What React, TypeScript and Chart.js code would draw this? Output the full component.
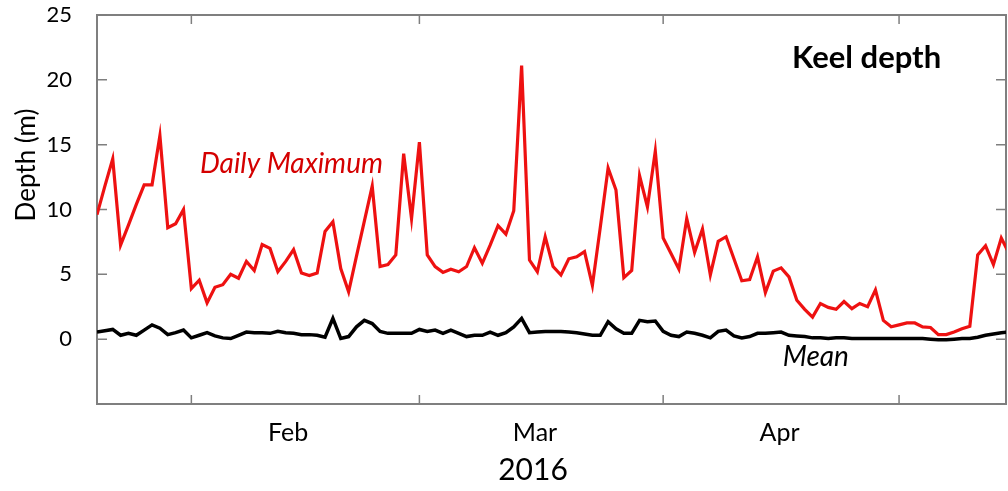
import React, { useEffect, useRef } from 'react';
import { Chart, registerables } from 'chart.js';

Chart.register(...registerables);

// Day index: 0 = 1 Jan 2016. Series start on 20 Jan (index 19), one value per day.
const startDay = 19;
const xMin = 19;
const xMax = 134.6;

const dailyMax = [
  9.6, 11.8, 13.9, 7.25, 8.8, 10.4, 11.9, 11.9, 15.7, 8.6, 8.9, 10.0,
  3.9, 4.55, 2.8, 4.0, 4.2, 5.0, 4.7, 6.0, 5.3, 7.3, 7.0, 5.2, 6.0, 6.9,
  5.1, 4.9, 5.1, 8.3, 9.05, 5.45, 3.65, 6.4, 9.1, 11.8, 5.6, 5.75, 6.5,
  14.3, 9.3, 15.2,
  6.5, 5.6, 5.15, 5.4, 5.2, 5.6, 7.05, 5.85, 7.25, 8.75, 8.1, 9.9, 21.1,
  6.1, 5.2, 7.9, 5.6, 4.95, 6.2, 6.35, 6.75, 4.15, 8.6, 13.2, 11.5, 4.75,
  5.3, 12.6, 10.2, 14.5,
  7.8, 6.6, 5.4, 9.3, 6.7, 8.5, 4.95, 7.55, 7.9, 6.2, 4.5, 4.6, 6.35, 3.6,
  5.25, 5.5, 4.8, 3.0, 2.3, 1.7, 2.75, 2.45, 2.3, 2.9, 2.35, 2.75, 2.5,
  3.8, 1.45, 0.95,
  1.1, 1.25, 1.25, 0.95, 0.9, 0.35, 0.35, 0.55, 0.8, 1.0, 6.5, 7.2, 5.75,
  7.8, 6.6,
];

const dailyMean = [
  0.55, 0.65, 0.75, 0.3, 0.45, 0.3, 0.7, 1.1, 0.85, 0.35, 0.5, 0.7,
  0.1, 0.3, 0.5, 0.25, 0.1, 0.05, 0.3, 0.55, 0.5, 0.5, 0.45, 0.6, 0.5, 0.45,
  0.35, 0.35, 0.3, 0.15, 1.6, 0.05, 0.2, 0.95, 1.45, 1.2, 0.6, 0.45, 0.45,
  0.45, 0.45, 0.75,
  0.6, 0.7, 0.45, 0.7, 0.45, 0.2, 0.3, 0.3, 0.55, 0.3, 0.5, 0.95, 1.6,
  0.5, 0.55, 0.6, 0.6, 0.6, 0.55, 0.5, 0.4, 0.3, 0.3, 1.35, 0.8, 0.45,
  0.45, 1.45, 1.35, 1.4,
  0.6, 0.3, 0.2, 0.55, 0.45, 0.3, 0.1, 0.6, 0.7, 0.25, 0.1, 0.2, 0.45, 0.45,
  0.5, 0.55, 0.3, 0.25, 0.2, 0.1, 0.1, 0.05, 0.1, 0.1, 0.05, 0.05, 0.05,
  0.05, 0.05, 0.05,
  0.05, 0.05, 0.05, 0.05, 0.0, -0.05, -0.05, 0.0, 0.05, 0.05, 0.15, 0.3, 0.4,
  0.5, 0.55,
];

const monthStartDays = [31, 60, 91, 121];
const monthLabelDays = [43.3, 74.7, 105.8];
const monthLabels = ['Feb', 'Mar', 'Apr'];
const yTickValues = [-5, 0, 5, 10, 15, 20, 25];
const yLabelled = [0, 5, 10, 15, 20, 25];

const FONT = 'Lato, "Open Sans", sans-serif';

const overlayPlugin = {
  id: 'overlay',
  beforeDatasetsDraw(chart: any) {
    const { ctx, chartArea: a, scales } = chart;
    const xs = scales.x;
    const ys = scales.y;
    ctx.save();
    ctx.strokeStyle = '#7f7f7f';
    ctx.lineWidth = 2;
    ctx.strokeRect(a.left, a.top, a.right - a.left, a.bottom - a.top);
    ctx.lineWidth = 1.5;
    ctx.beginPath();
    yTickValues.forEach((v) => {
      const py = ys.getPixelForValue(v);
      ctx.moveTo(a.left, py);
      ctx.lineTo(a.left + 10, py);
      ctx.moveTo(a.right, py);
      ctx.lineTo(a.right - 10, py);
    });
    monthStartDays.forEach((d) => {
      const px = xs.getPixelForValue(d);
      ctx.moveTo(px, a.bottom);
      ctx.lineTo(px, a.bottom - 9);
      ctx.moveTo(px, a.top);
      ctx.lineTo(px, a.top + 9);
    });
    ctx.stroke();
    ctx.restore();
  },
  afterDraw(chart: any) {
    const { ctx, scales } = chart;
    const xs = scales.x;
    const ys = scales.y;
    ctx.save();
    ctx.textBaseline = 'alphabetic';
    ctx.textAlign = 'left';

    ctx.fillStyle = '#d40000';
    ctx.font = `italic 28px ${FONT}`;
    ctx.fillText('Daily Maximum', xs.getPixelForValue(32.1), ys.getPixelForValue(12.8));

    ctx.fillStyle = '#000';
    ctx.font = `italic 28px ${FONT}`;
    ctx.fillText('Mean', xs.getPixelForValue(106.2), ys.getPixelForValue(-2.1));

    ctx.font = `bold 31px ${FONT}`;
    ctx.fillText('Keel depth', xs.getPixelForValue(107.4), ys.getPixelForValue(20.9));

    ctx.textAlign = 'center';
    ctx.textBaseline = 'middle';
    ctx.font = `30px ${FONT}`;
    ctx.fillText('2016', 533, 470);

    ctx.translate(27, 165);
    ctx.rotate(-Math.PI / 2);
    ctx.font = `26px ${FONT}`;
    ctx.fillText('Depth (m)', 0, 0);
    ctx.restore();
  },
};

export default function App() {
  const ref = useRef<HTMLCanvasElement | null>(null);

  useEffect(() => {
    if (!ref.current) return;
    const days = dailyMax.map((_, i) => startDay + i);
    const chart = new Chart(ref.current, {
      type: 'line',
      data: {
        datasets: [
          {
            label: 'Daily Maximum',
            data: days.map((d, i) => ({ x: d, y: dailyMax[i] })),
            borderColor: '#ee1111',
            borderWidth: 3.2,
            pointRadius: 0,
            tension: 0,
            fill: false,
          },
          {
            label: 'Mean',
            data: days.map((d, i) => ({ x: d, y: dailyMean[i] })),
            borderColor: '#000000',
            borderWidth: 3.5,
            pointRadius: 0,
            tension: 0,
            fill: false,
          },
        ],
      },
      options: {
        responsive: false,
        animation: false,
        layout: { padding: { left: 0, top: 15, right: 2, bottom: 0 } },
        plugins: {
          legend: { display: false },
          tooltip: { enabled: false },
        },
        scales: {
          x: {
            type: 'linear',
            min: xMin,
            max: xMax,
            grid: { display: false },
            border: { display: false },
            afterFit: (s: any) => {
              s.height = 87;
              s.paddingLeft = 0;
              s.paddingRight = 0;
            },
            afterBuildTicks: (s: any) => {
              s.ticks = monthLabelDays.map((v) => ({ value: v }));
            },
            ticks: {
              autoSkip: false,
              maxRotation: 0,
              padding: 6,
              color: '#000',
              font: { family: FONT, size: 25 },
              callback: (v: any) => {
                const i = monthLabelDays.indexOf(Number(v));
                return i >= 0 ? monthLabels[i] : '';
              },
            },
          },
          y: {
            type: 'linear',
            min: -5,
            max: 25,
            grid: { display: false },
            border: { display: false },
            afterFit: (s: any) => {
              s.width = 97;
              s.paddingTop = 0;
              s.paddingBottom = 0;
            },
            afterBuildTicks: (s: any) => {
              s.ticks = yTickValues.map((v) => ({ value: v }));
            },
            ticks: {
              padding: 17,
              color: '#000',
              font: { family: FONT, size: 22 },
              callback: (v: any) => (yLabelled.includes(Number(v)) ? String(v) : ''),
            },
          },
        },
      },
      plugins: [overlayPlugin],
    });
    return () => chart.destroy();
  }, []);

  return (
    <div style={{ position: 'absolute', left: 0, top: 0, width: 1008, height: 491, background: '#fff' }}>
      <canvas ref={ref} width={1008} height={491} />
    </div>
  );
}
